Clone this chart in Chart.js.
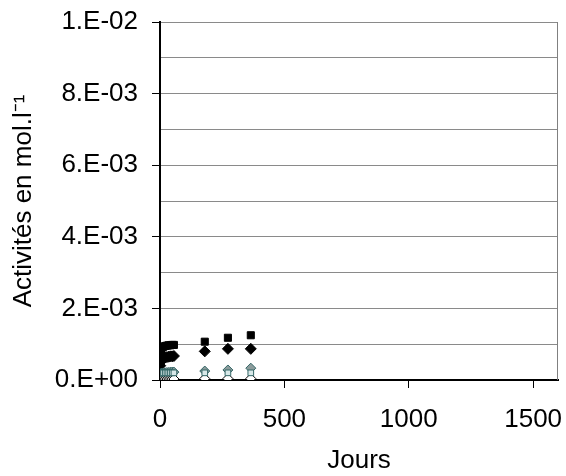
<!DOCTYPE html>
<html>
<head>
<meta charset="utf-8">
<script src="https://cdn.jsdelivr.net/npm/chart.js@4"></script>
<style>
  body { margin: 0; background: #fff; }
  #wrap { width: 566px; height: 476px; }
</style>
</head>
<body>
<div id="wrap"><canvas id="actChart"></canvas></div>
<script>
// jours de prélèvement
const jours = [0, 1, 2, 4, 7, 14, 21, 28, 35, 42, 49, 56, 180, 273, 365];

// activités (mol/l)
const carres_noirs   = [0.35e-3, 0.55e-3, 0.70e-3, 0.85e-3, 0.90e-3, 0.93e-3, 0.95e-3, 0.96e-3, 0.97e-3, 0.97e-3, 0.98e-3, 0.98e-3, 1.07e-3, 1.18e-3, 1.25e-3];
const losanges_noirs = [0.25e-3, 0.40e-3, 0.50e-3, 0.56e-3, 0.60e-3, 0.62e-3, 0.63e-3, 0.64e-3, 0.65e-3, 0.66e-3, 0.66e-3, 0.67e-3, 0.80e-3, 0.87e-3, 0.87e-3];
const losanges_gris  = [0.12e-3, 0.15e-3, 0.17e-3, 0.18e-3, 0.19e-3, 0.20e-3, 0.20e-3, 0.21e-3, 0.21e-3, 0.22e-3, 0.22e-3, 0.22e-3, 0.25e-3, 0.28e-3, 0.33e-3];
const carres_verts   = [0.20e-3, 0.20e-3, 0.20e-3, 0.20e-3, 0.20e-3, 0.20e-3, 0.20e-3, 0.20e-3, 0.20e-3, 0.20e-3, 0.20e-3, 0.20e-3, 0.20e-3, 0.20e-3, 0.20e-3];
const losanges_blancs = [0.02e-3, 0.02e-3, 0.02e-3, 0.03e-3, 0.03e-3, 0.03e-3, 0.03e-3, 0.03e-3, 0.03e-3, 0.03e-3, 0.03e-3, 0.03e-3, 0.04e-3, 0.04e-3, 0.04e-3];

const xTicks = [0, 500, 1000, 1500];
const yLabels = {0: '0.E+00', 2: '2.E-03', 4: '4.E-03', 6: '6.E-03', 8: '8.E-03', 10: '1.E-02'};

function pts(vals) {
    return jours.map((j, i) => ({x: j, y: vals[i]}));
}

// bord droit du cadre
const cadre = {
    id: 'cadre',
    afterDraw(chart) {
        const a = chart.chartArea, c = chart.ctx;
        c.save();
        c.strokeStyle = '#808080';
        c.lineWidth = 1;
        c.beginPath();
        c.moveTo(a.right - 0.5, a.top);
        c.lineTo(a.right - 0.5, a.bottom);
        c.stroke();
        c.restore();
    }
};

const police = { family: 'Liberation Sans', size: 26 };

const ctx = document.getElementById('actChart').getContext('2d');
const myChart = new Chart(ctx, {
    type: 'scatter',
    data: {
        datasets: [
            {
                label: 'carrés verts',
                data: pts(carres_verts),
                pointStyle: 'rect',
                pointRadius: 4,
                backgroundColor: '#d8e8e8',
                borderColor: '#336666',
                borderWidth: 1
            },
            {
                label: 'losanges blancs',
                data: pts(losanges_blancs),
                pointStyle: 'rectRot',
                pointRadius: 5,
                backgroundColor: '#ffffff',
                borderColor: '#000000',
                borderWidth: 1
            },
            {
                label: 'losanges gris',
                data: pts(losanges_gris),
                pointStyle: 'rectRot',
                pointRadius: 5,
                backgroundColor: '#8c9c9c',
                borderColor: '#336666',
                borderWidth: 1
            },
            {
                label: 'losanges noirs',
                data: pts(losanges_noirs),
                pointStyle: 'rectRot',
                pointRadius: 5.5,
                backgroundColor: '#000000',
                borderColor: '#000000',
                borderWidth: 1
            },
            {
                label: 'carrés noirs',
                data: pts(carres_noirs),
                pointStyle: 'rect',
                pointRadius: 5,
                backgroundColor: '#000000',
                borderColor: '#000000',
                borderWidth: 1
            }
        ]
    },
    options: {
        responsive: true,
        maintainAspectRatio: false,
        animation: false,
        layout: { padding: { top: 22, right: 8, left: 0, bottom: 0 } },
        plugins: {
            legend: { display: false },
            tooltip: { enabled: false }
        },
        scales: {
            x: {
                type: 'linear',
                min: 0,
                max: 1600,
                afterBuildTicks(scale) {
                    scale.ticks = xTicks.map(v => ({ value: v }));
                },
                ticks: {
                    color: '#000',
                    padding: 16,
                    font: police,
                    callback: v => String(v)
                },
                grid: {
                    drawOnChartArea: false,
                    tickLength: 8,
                    tickColor: '#000'
                },
                border: { color: '#000', width: 2 },
                title: {
                    display: true,
                    text: 'Jours',
                    color: '#000',
                    font: police,
                    padding: { top: 0, bottom: 0 }
                },
                afterFit(scale) {
                    scale.height = 96;
                    scale.paddingLeft = 0;
                    scale.paddingRight = 0;
                }
            },
            y: {
                type: 'linear',
                min: 0,
                max: 0.01,
                ticks: {
                    stepSize: 0.001,
                    color: '#000',
                    padding: 14,
                    font: police,
                    callback: function (v) {
                        const k = Math.round(v * 1000);
                        return yLabels[k] !== undefined ? yLabels[k] : '';
                    }
                },
                grid: {
                    color: '#8a8a8a',
                    lineWidth: 1,
                    tickLength: 8,
                    tickColor: function (c) {
                        const k = Math.round(c.tick.value * 1000);
                        return k % 2 === 0 ? '#000' : 'rgba(0,0,0,0)';
                    }
                },
                border: { color: '#000', width: 2 },
                title: {
                    display: true,
                    text: 'Activités en mol.l⁻¹',
                    color: '#000',
                    font: police,
                    padding: { top: 8, bottom: 0 }
                },
                afterFit(scale) {
                    scale.width = 160;
                    scale.paddingTop = 0;
                    scale.paddingBottom = 0;
                }
            }
        }
    },
    plugins: [cadre]
});
</script>
</body>
</html>
